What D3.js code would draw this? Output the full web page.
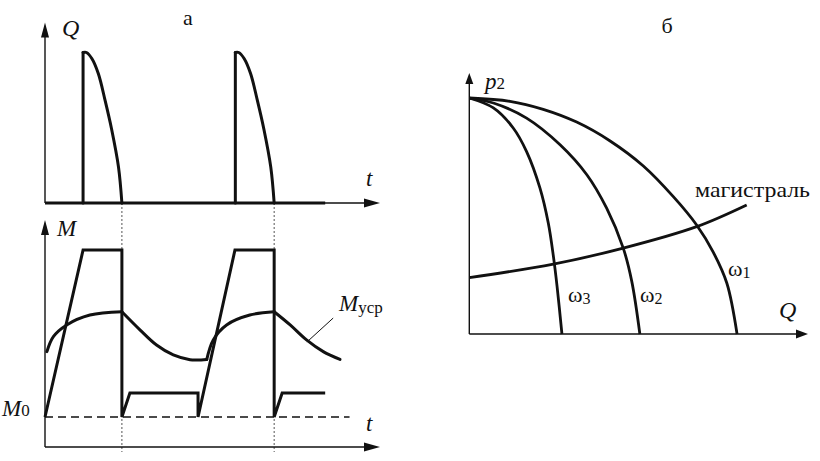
<!DOCTYPE html>
<html><head><meta charset="utf-8">
<script src="https://cdn.jsdelivr.net/npm/d3@7"></script>
<style>
html,body{margin:0;padding:0;background:#fff;}
</style></head>
<body>
<svg id="chart" width="820" height="461"></svg>
<script>
// ---------- Panel а (top): flow Q(t) ----------
const pulseStartsT = [1.0, 5.0];
const pulse1FallT = [1.0, 1.09, 1.23, 1.40, 1.58, 1.75, 1.93, 2.02];
const pulse1FallQ = [1.0, 1.0, 0.96, 0.86, 0.68, 0.49, 0.24, 0];
const pulse2FallT = [5.0, 5.09, 5.23, 5.40, 5.58, 5.75, 5.93, 6.02];
const pulse2FallQ = [1.0, 1.0, 0.96, 0.86, 0.68, 0.49, 0.24, 0];
const qBaselineT = [0, 7.36];
const cycleEndsT = [2.02, 6.02];

// ---------- Panel а (bottom): torque M(t) ----------
const torqueT = [0, 1.0, 2.02, 2.02, 2.23, 4.02, 4.02, 4.99, 6.02, 6.02, 6.23, 7.36];
const torqueM = [1, 6.57, 6.57, 1, 1.8, 1.8, 1, 6.57, 6.57, 1, 1.8, 1.8];
const m0Level = 1;
const m0LineT = [0, 8.0];
const avgRise1T = [0.05, 0.22, 0.57, 1.18, 2.02];
const avgRise1M = [3.18, 3.68, 4.07, 4.40, 4.51];
const avgDecay1T = [2.02, 2.50, 2.93, 3.37, 3.81, 4.00, 4.25];
const avgDecay1M = [4.51, 3.90, 3.40, 3.07, 2.91, 2.90, 2.92];
const avgRise2T = [4.25, 4.42, 4.77, 5.38, 6.02];
const avgRise2M = [2.92, 3.57, 4.07, 4.40, 4.51];
const avgDecay2T = [6.02, 6.44, 6.87, 7.31, 7.75];
const avgDecay2M = [4.51, 4.07, 3.57, 3.18, 2.92];
const leaderT = [6.88, 7.57];
const leaderM = [3.5, 4.3];

// ---------- Panel б: pump curves p2(Q) ----------
const omega1Q = [0, 0.152, 0.276, 0.401, 0.526, 0.650, 0.762, 0.849, 0.911, 0.962, 1.0];
const omega1P = [1, 0.986, 0.952, 0.898, 0.818, 0.712, 0.582, 0.462, 0.347, 0.215, 0];
const omega2Q = [0, 0.090, 0.214, 0.339, 0.439, 0.513, 0.575, 0.607, 0.637];
const omega2P = [1, 0.979, 0.915, 0.802, 0.675, 0.533, 0.364, 0.222, 0];
const omega3Q = [0, 0.090, 0.164, 0.214, 0.264, 0.295, 0.314, 0.328, 0.346];
const omega3P = [1, 0.958, 0.873, 0.773, 0.618, 0.470, 0.330, 0.200, 0];
const mainQ = [0, 0.314, 0.575, 0.849, 1.036];
const mainP = [0.239, 0.296, 0.364, 0.455, 0.547];

const FONT = "'Liberation Serif', Tinos, 'Times New Roman', 'DejaVu Serif', serif";
const svg = d3.select("#chart");
const ink = "#111";
const zip = (a, b) => a.map((v, i) => [v, b[i]]);

// scales
const xT = d3.scaleLinear().domain([0, 8.8]).range([45, 380]);
const yQ = d3.scaleLinear().domain([0, 1.2]).range([203, 22.4]);
const yM = d3.scaleLinear().domain([0, 7.57]).range([447, 220]);
const xB = d3.scaleLinear().domain([0, 1.265]).range([469.3, 808]);
const yB = d3.scaleLinear().domain([0, 1.106]).range([334, 73]);

function arrowUp(x, y, len, hw) {
  svg.append("path").attr("d", `M${x},${y}L${x - hw},${y + len}L${x + hw},${y + len}Z`).attr("fill", ink);
}
function arrowRight(x, y, len, hw) {
  svg.append("path").attr("d", `M${x},${y}L${x - len},${y - hw}L${x - len},${y + hw}Z`).attr("fill", ink);
}
function axisLine(x1, y1, x2, y2, w) {
  svg.append("line").attr("x1", x1).attr("y1", y1).attr("x2", x2).attr("y2", y2)
    .attr("stroke", ink).attr("stroke-width", w || 1.4);
}

// ---- dotted cycle lines ----
cycleEndsT.forEach(t => {
  svg.append("line").attr("x1", xT(t)).attr("x2", xT(t)).attr("y1", yQ(0)).attr("y2", yM(0) + 5)
    .attr("stroke", "#555").attr("stroke-width", 1).attr("stroke-dasharray", "2,2");
});

// ---- Panel а top axes ----
axisLine(xT(0), yQ(0), xT(0), yQ(1.2) + 8);
arrowUp(xT(0), yQ(1.2), 15, 4);
axisLine(xT(0), yQ(0), xT(8.8) - 8, yQ(0));
arrowRight(xT(8.8), yQ(0), 16, 4.5);

const lineQ = d3.line().x(d => xT(d[0])).y(d => yQ(d[1]));
svg.append("path").attr("d", lineQ(zip(qBaselineT, [0, 0]))).attr("fill", "none")
  .attr("stroke", ink).attr("stroke-width", 3.2);
pulseStartsT.forEach(t => {
  svg.append("path").attr("d", lineQ([[t, 0], [t, 1]])).attr("fill", "none")
    .attr("stroke", ink).attr("stroke-width", 3).attr("stroke-linecap", "round");
});
const curveQ = d3.line().x(d => xT(d[0])).y(d => yQ(d[1])).curve(d3.curveCatmullRom.alpha(0.5));
[[pulse1FallT, pulse1FallQ], [pulse2FallT, pulse2FallQ]].forEach(([t, q]) => {
  svg.append("path").attr("d", curveQ(zip(t, q))).attr("fill", "none")
    .attr("stroke", ink).attr("stroke-width", 3).attr("stroke-linecap", "round");
});

// ---- Panel а bottom ----
axisLine(xT(0), yM(0), xT(0), yM(7.57) + 8);
arrowUp(xT(0), yM(7.57), 15, 4);
axisLine(xT(0), yM(0), xT(8.8) - 8, yM(0));
arrowRight(xT(8.8), yM(0), 16, 4.5);

const lineM = d3.line().x(d => xT(d[0])).y(d => yM(d[1]));
svg.append("path").attr("d", lineM(zip(m0LineT, [m0Level, m0Level]))).attr("fill", "none")
  .attr("stroke", ink).attr("stroke-width", 1.4).attr("stroke-dasharray", "8,5");
svg.append("path").attr("d", lineM(zip(torqueT, torqueM))).attr("fill", "none")
  .attr("stroke", ink).attr("stroke-width", 3).attr("stroke-linejoin", "miter");
const curveM = d3.line().x(d => xT(d[0])).y(d => yM(d[1])).curve(d3.curveCatmullRom.alpha(0.5));
[[avgRise1T, avgRise1M], [avgDecay1T, avgDecay1M], [avgRise2T, avgRise2M], [avgDecay2T, avgDecay2M]].forEach(([t, m]) => {
  svg.append("path").attr("d", curveM(zip(t, m))).attr("fill", "none")
    .attr("stroke", ink).attr("stroke-width", 3).attr("stroke-linecap", "round");
});
svg.append("path").attr("d", lineM(zip(leaderT, leaderM))).attr("fill", "none")
  .attr("stroke", ink).attr("stroke-width", 1);

// ---- Panel б ----
axisLine(xB(0), yB(0), xB(0), yB(1.106) + 6);
arrowUp(xB(0), yB(1.106), 11, 4);
axisLine(xB(0), yB(0), xB(1.265) - 6, yB(0));
arrowRight(xB(1.265), yB(0), 12, 4.5);
const curveB = d3.line().x(d => xB(d[0])).y(d => yB(d[1])).curve(d3.curveCatmullRom.alpha(0.5));
[[omega1Q, omega1P], [omega2Q, omega2P], [omega3Q, omega3P], [mainQ, mainP]].forEach(([q, p]) => {
  svg.append("path").attr("d", curveB(zip(q, p))).attr("fill", "none")
    .attr("stroke", ink).attr("stroke-width", 2.8).attr("stroke-linecap", "butt");
});

// ---- Text ----
function txt(x, y, s, size, italic, anchor) {
  return svg.append("text").attr("x", x).attr("y", y).attr("font-size", size)
    .attr("font-family", FONT).attr("fill", ink)
    .attr("font-style", italic ? "italic" : "normal").attr("text-anchor", anchor || "start").text(s);
}
txt(188, 25, "а", 22, false, "middle");
txt(667, 33, "б", 22, false, "middle");
txt(62, 36, "Q", 24, true);
txt(366, 186, "t", 23, true);
txt(57, 236, "M", 23, true);
txt(366, 431, "t", 23, true);
const m0 = txt(2, 416, "M", 23, true);
m0.append("tspan").attr("font-style", "normal").attr("font-size", 17).text("0");
const mu = txt(339, 311, "M", 23, true);
mu.append("tspan").attr("font-style", "normal").attr("font-size", 17).attr("dy", 2).text("уср");
const p2 = txt(485, 89, "p", 23, true);
p2.append("tspan").attr("font-style", "normal").attr("font-size", 17).text("2");
txt(779, 318, "Q", 24, true);
txt(695, 197, "магистраль", 22, false).attr("textLength", 115).attr("lengthAdjust", "spacingAndGlyphs");
const w1 = txt(728, 276, "ω", 22, false);
w1.append("tspan").attr("font-size", 16).attr("dy", 2).text("1");
const w2 = txt(640, 302, "ω", 22, false);
w2.append("tspan").attr("font-size", 16).attr("dy", 2).text("2");
const w3 = txt(568, 302, "ω", 22, false);
w3.append("tspan").attr("font-size", 16).attr("dy", 2).text("3");
</script>
</body></html>
